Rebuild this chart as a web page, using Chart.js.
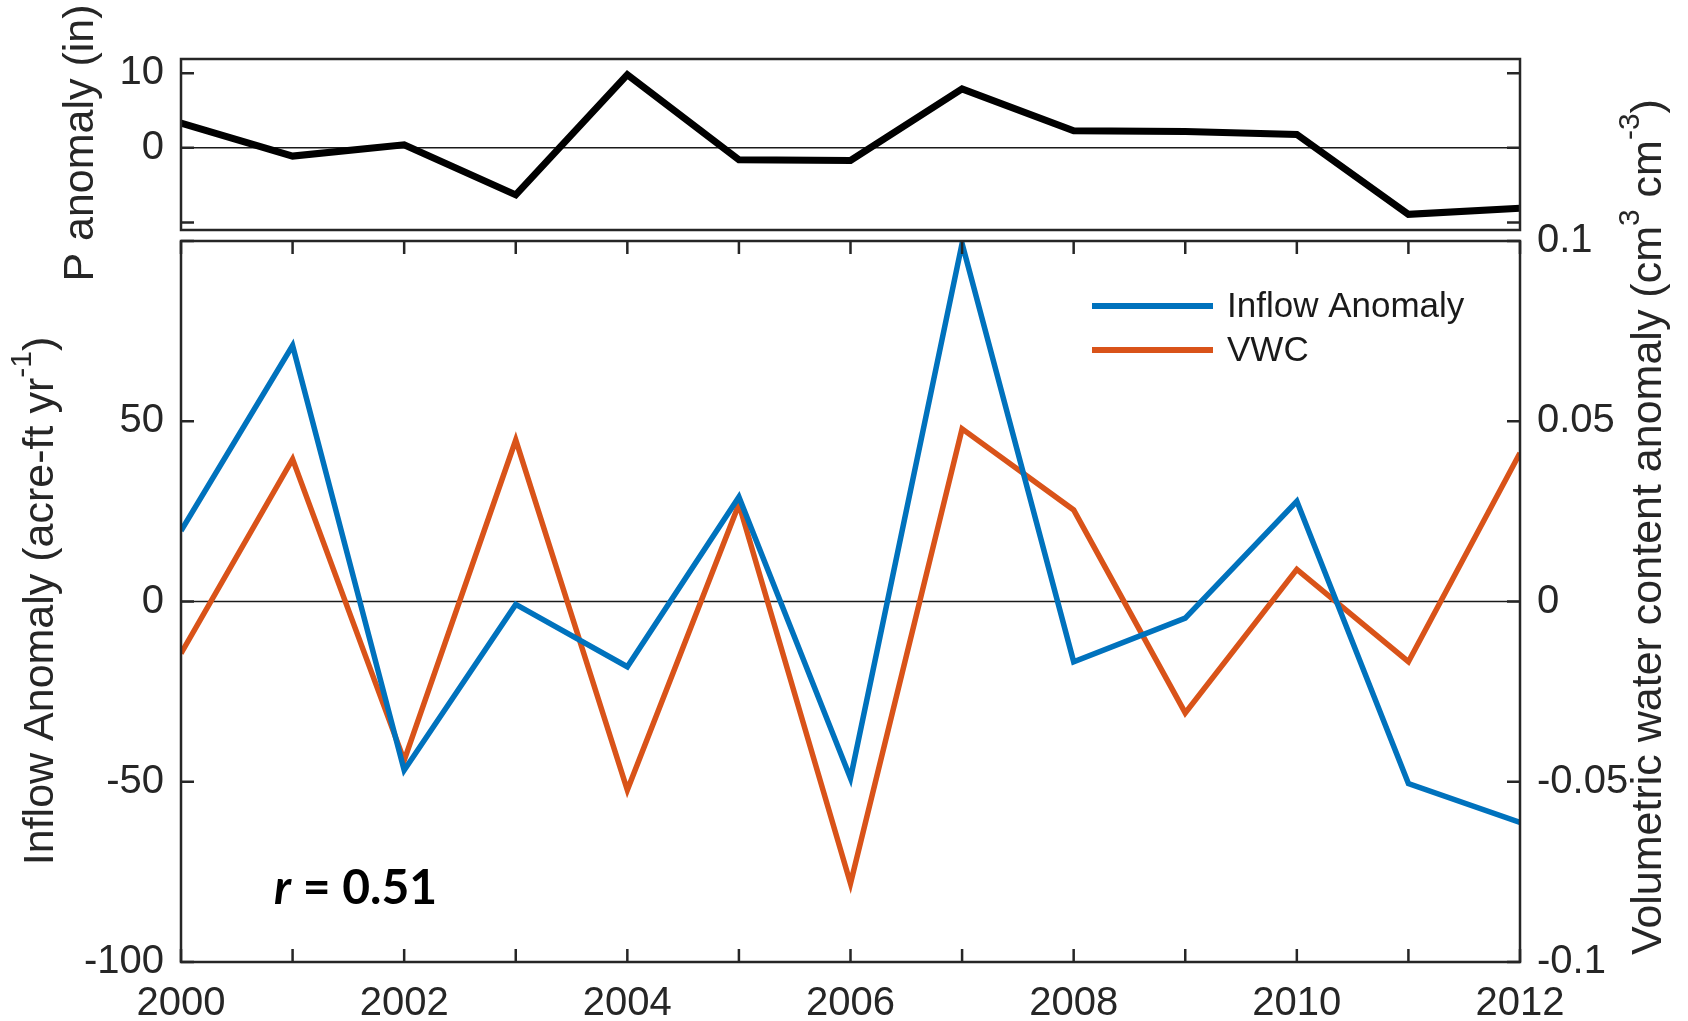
<!DOCTYPE html>
<html>
<head>
<meta charset="utf-8">
<title>Inflow anomaly, soil water content and precipitation, 2000–2012</title>
<script src="https://cdn.jsdelivr.net/npm/chart.js@4/dist/chart.umd.min.js"></script>
<style>
  html, body { margin: 0; padding: 0; background: #ffffff; }
  #wrap { position: relative; width: 1688px; height: 1021px; overflow: hidden; background: #ffffff; }
  #wrap canvas { position: absolute; left: 0; top: 0; }
</style>
</head>
<body>
<div id="wrap">
  <canvas id="precipChart" width="1688" height="1021"></canvas>
  <canvas id="mainChart" width="1688" height="1021"></canvas>
</div>
<script>
// ---- data -------------------------------------------------------------
const years = [2000, 2001, 2002, 2003, 2004, 2005, 2006, 2007, 2008, 2009, 2010, 2011, 2012];
const labelledYears = [2000, 2002, 2004, 2006, 2008, 2010, 2012];

// annual precipitation anomaly (in)
const precipAnomaly = [3.3, -1.1, 0.4, -6.3, 9.8, -1.6, -1.7, 7.9, 2.3, 2.2, 1.8, -8.9, -8.1];
// reservoir inflow anomaly (acre-ft / yr)
const inflowAnomaly = [19.6, 71.0, -46.8, -0.8, -18.1, 29.0, -49.0, 99.3, -16.7, -4.6, 27.8, -50.5, -61.3];
// volumetric water content anomaly (cm3 / cm3)
const vwcAnomaly = [-0.0144, 0.0395, -0.0441, 0.0448, -0.0523, 0.0270, -0.0782, 0.0479, 0.0254, -0.0309, 0.0089, -0.0167, 0.0412];

// tick values and which of them carry a label
const precipTicks = [-10, -5, 0, 5, 10];
const precipTickLabels = [0, 10];
const inflowTicks = [-100, -50, 0, 50, 100];
const inflowTickLabels = [-100, -50, 0, 50];
const vwcTicks = [-0.1, -0.05, 0, 0.05, 0.1];

const correlationText = '0.51';

// ---- styling ----------------------------------------------------------
const SANS = '"Liberation Sans", Arial, Helvetica, sans-serif';
const AXIS = '#262626';
const BLUE = '#0072BD';
const ORANGE = '#D95319';
const W = 1688, H = 1021;

Chart.defaults.font.family = SANS;
Chart.defaults.color = AXIS;

const tickFont = { family: SANS, size: 40 };

function fixedTicks(values) {
  return (scale) => { scale.ticks = values.map(v => ({ value: v })); };
}
function pairs(xs, ys) {
  return xs.map((x, i) => ({ x: x, y: ys[i] }));
}

// rotated title with optional superscript pieces
function drawRotatedTitle(ctx, parts, cx, cy, size) {
  ctx.save();
  ctx.translate(cx, cy);
  ctx.rotate(-Math.PI / 2);
  ctx.fillStyle = AXIS;
  ctx.textBaseline = 'middle';
  ctx.textAlign = 'left';
  const supSize = Math.round(size * 0.7);
  let total = 0;
  parts.forEach(p => {
    ctx.font = (p.sup ? supSize : size) + 'px ' + SANS;
    p.w = ctx.measureText(p.t).width;
    total += p.w;
  });
  let x = -total / 2;
  parts.forEach(p => {
    ctx.font = (p.sup ? supSize : size) + 'px ' + SANS;
    ctx.fillText(p.t, x, p.sup ? -size * 0.42 : 0);
    x += p.w;
  });
  ctx.restore();
}

// box, inward tick marks and zero reference line
const framePlugin = {
  id: 'frame',
  beforeDatasetsDraw(chart) {
    const { ctx, chartArea: a } = chart;
    const y0 = chart.scales.y.getPixelForValue(0);
    ctx.save();
    ctx.strokeStyle = '#1a1a1a';
    ctx.lineWidth = 1.5;
    ctx.beginPath();
    ctx.moveTo(a.left, y0);
    ctx.lineTo(a.right, y0);
    ctx.stroke();
    ctx.restore();
  },
  afterDatasetsDraw(chart, args, opts) {
    const { ctx, chartArea: a } = chart;
    const L = 13;
    ctx.save();
    ctx.strokeStyle = AXIS;
    ctx.lineWidth = 2.5;
    ctx.strokeRect(a.left, a.top, a.right - a.left, a.bottom - a.top);
    ctx.beginPath();
    const left = chart.scales.y;
    const right = chart.scales[opts.rightScale];
    left.ticks.forEach(t => {
      const p = left.getPixelForValue(t.value);
      ctx.moveTo(a.left, p); ctx.lineTo(a.left + L, p);
    });
    right.ticks.forEach(t => {
      const p = right.getPixelForValue(t.value);
      ctx.moveTo(a.right, p); ctx.lineTo(a.right - L, p);
    });
    if (opts.xTicks) {
      const xs = chart.scales.x;
      xs.ticks.forEach(t => {
        const p = xs.getPixelForValue(t.value);
        ctx.moveTo(p, a.bottom); ctx.lineTo(p, a.bottom - L);
        ctx.moveTo(p, a.top); ctx.lineTo(p, a.top + L);
      });
    }
    ctx.stroke();
    ctx.restore();
  }
};

// axis titles, legend and correlation note
const annotationPlugin = {
  id: 'annotations',
  afterDraw(chart, args, opts) {
    const ctx = chart.ctx;
    if (opts.panel === 'precip') {
      drawRotatedTitle(ctx, [{ t: 'P anomaly (in)' }], 81, 143, 43);
      return;
    }
    drawRotatedTitle(ctx, [{ t: 'Inflow Anomaly (acre-ft yr' }, { t: '-1', sup: true }, { t: ')' }], 41, 601, 43);
    drawRotatedTitle(ctx, [
      { t: 'Volumetric water content anomaly (cm' }, { t: '3', sup: true },
      { t: ' cm' }, { t: '-3', sup: true }, { t: ')' }
    ], 1649, 527, 43);

    // legend
    const rows = [306, 350];
    chart.data.datasets.forEach((ds, i) => {
      ctx.save();
      ctx.strokeStyle = ds.borderColor;
      ctx.lineWidth = 6;
      ctx.beginPath();
      ctx.moveTo(1092, rows[i]);
      ctx.lineTo(1213, rows[i]);
      ctx.stroke();
      ctx.fillStyle = '#1a1a1a';
      ctx.font = '35px ' + SANS;
      ctx.textBaseline = 'middle';
      ctx.textAlign = 'left';
      ctx.fillText(ds.label, 1227, rows[i] + 1);
      ctx.restore();
    });

    // correlation coefficient
    ctx.save();
    ctx.fillStyle = '#000000';
    ctx.textBaseline = 'alphabetic';
    ctx.textAlign = 'left';
    let x = 274;
    const base = 904;
    ctx.font = 'italic 700 48px Lato, "Open Sans", sans-serif';
    ctx.fillText('r', x, base);
    x += ctx.measureText('r').width;
    ctx.font = '700 48px Lato, "Open Sans", sans-serif';
    ctx.fillText(' = ' + correlationText, x, base);
    ctx.restore();
  }
};

const hiddenGrid = { display: false, drawTicks: false };
const noBorder = { display: false };

// ---- upper panel: precipitation anomaly --------------------------------
new Chart(document.getElementById('precipChart'), {
  type: 'line',
  data: {
    datasets: [{
      label: 'P anomaly',
      data: pairs(years, precipAnomaly),
      borderColor: '#000000',
      borderWidth: 7,
      pointRadius: 0,
      tension: 0,
      fill: false,
      borderJoinStyle: 'miter'
    }]
  },
  options: {
    responsive: false,
    animation: false,
    devicePixelRatio: 1,
    layout: { padding: { top: 59, bottom: H - 230, left: 0, right: W - 1520 } },
    plugins: {
      legend: { display: false },
      tooltip: { enabled: false },
      frame: { rightScale: 'y', xTicks: false },
      annotations: { panel: 'precip' }
    },
    scales: {
      x: { type: 'linear', display: false, min: 2000, max: 2012 },
      y: {
        position: 'left',
        min: -11, max: 11.9,
        afterBuildTicks: fixedTicks(precipTicks),
        afterFit: s => { s.width = 181; },
        grid: hiddenGrid,
        border: noBorder,
        ticks: {
          font: tickFont, color: AXIS, padding: 17,
          callback: v => precipTickLabels.includes(v) ? String(v) : ''
        }
      }
    }
  },
  plugins: [framePlugin, annotationPlugin]
});

// ---- lower panel: inflow and soil water content anomalies ---------------
new Chart(document.getElementById('mainChart'), {
  type: 'line',
  data: {
    datasets: [{
      label: 'Inflow Anomaly',
      data: pairs(years, inflowAnomaly),
      yAxisID: 'y',
      borderColor: BLUE,
      borderWidth: 5.5,
      pointRadius: 0,
      tension: 0,
      fill: false,
      borderJoinStyle: 'miter'
    }, {
      label: 'VWC',
      data: pairs(years, vwcAnomaly),
      yAxisID: 'y1',
      borderColor: ORANGE,
      borderWidth: 5.5,
      pointRadius: 0,
      tension: 0,
      fill: false,
      borderJoinStyle: 'miter'
    }]
  },
  options: {
    responsive: false,
    animation: false,
    devicePixelRatio: 1,
    layout: { padding: { top: 241, bottom: 0, left: 0, right: 0 } },
    plugins: {
      legend: { display: false },
      tooltip: { enabled: false },
      frame: { rightScale: 'y1', xTicks: true },
      annotations: { panel: 'main' }
    },
    scales: {
      x: {
        type: 'linear',
        min: 2000, max: 2012,
        afterBuildTicks: fixedTicks(years),
        afterFit: s => { s.height = H - 962; },
        grid: hiddenGrid,
        border: noBorder,
        ticks: {
          font: tickFont, color: AXIS, padding: 18, maxRotation: 0, autoSkip: false,
          callback: v => labelledYears.includes(v) ? String(v) : ''
        }
      },
      y: {
        position: 'left',
        min: -100, max: 100,
        afterBuildTicks: fixedTicks(inflowTicks),
        afterFit: s => { s.width = 181; },
        grid: hiddenGrid,
        border: noBorder,
        ticks: {
          font: tickFont, color: AXIS, padding: 17,
          callback: v => inflowTickLabels.includes(v) ? String(v) : ''
        }
      },
      y1: {
        position: 'right',
        min: -0.1, max: 0.1,
        afterBuildTicks: fixedTicks(vwcTicks),
        afterFit: s => { s.width = W - 1520; },
        grid: hiddenGrid,
        border: noBorder,
        ticks: {
          font: tickFont, color: AXIS, padding: 17,
          callback: v => String(Number(v.toFixed(2)))
        }
      }
    }
  },
  plugins: [framePlugin, annotationPlugin]
});
</script>
</body>
</html>
